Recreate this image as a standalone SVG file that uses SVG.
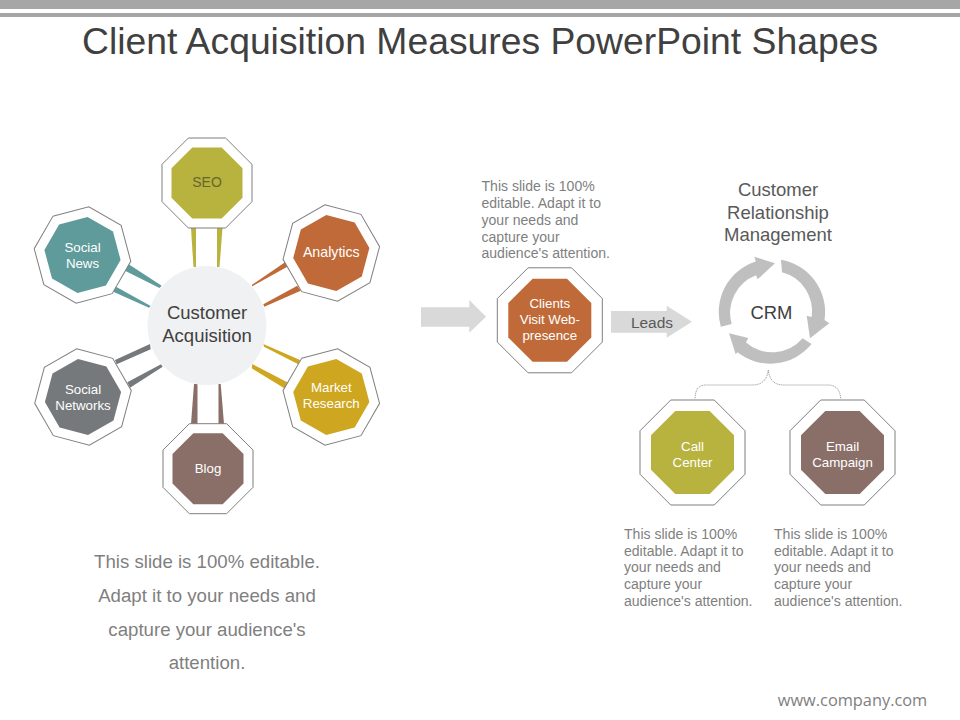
<svg xmlns="http://www.w3.org/2000/svg" width="960" height="720" viewBox="0 0 960 720">
<style>
text{font-family:"Liberation Sans",Arial,sans-serif;text-anchor:middle}
.ring{fill:#fff;stroke:#7f7f7f;stroke-width:1}
.lbl{font-size:13.3px;fill:#fff}
.big{font-size:18.5px;fill:#404040}
.crmt{font-size:18.5px;fill:#595959}
.para{font-size:14.05px;fill:#7f7f7f;text-anchor:start}
.side{font-size:18.65px;fill:#7f7f7f}
.arrow{fill:#d9d9d9}
.crm{fill:#bfbfbf}
.teal{fill:#5f9b9b}.olive{fill:#b8b33f}.rust{fill:#bf6a38}.gold{fill:#cfa61f}.brown{fill:#8a6f69}.grey{fill:#75797b}
</style>
<defs>
<polygon id="o45" class="ring" points="-18.64,-45 18.64,-45 45,-18.64 45,18.64 18.64,45 -18.64,45 -45,18.64 -45,-18.64"/>
<polygon id="i35" points="-14.7,-35.5 14.7,-35.5 35.5,-14.7 35.5,14.7 14.7,35.5 -14.7,35.5 -35.5,14.7 -35.5,-14.7"/>
<polygon id="o52" class="ring" points="-21.75,-52.5 21.75,-52.5 52.5,-21.75 52.5,21.75 21.75,52.5 -21.75,52.5 -52.5,21.75 -52.5,-21.75"/>
<polygon id="i41" points="-17.19,-41.5 17.19,-41.5 41.5,-17.19 41.5,17.19 17.19,41.5 -17.19,41.5 -41.5,17.19 -41.5,-17.19"/>
</defs>
<g id="header-bars" fill="#a6a6a6">
<rect x="0" y="0" width="960" height="9"/>
<rect x="0" y="13" width="960" height="4"/>
</g>
<text id="title" x="480" y="54" font-size="37.3" fill="#404040">Client Acquisition Measures PowerPoint Shapes</text>
<g id="connectors">
<polygon class="olive" points="191,228 196,228 196,267 193.5,267"/>
<polygon class="olive" points="217,228 222.5,228 219.5,267 217,267"/>
<polygon class="brown" points="194,384 197.5,384 197.5,424 191,424"/>
<polygon class="brown" points="218.5,384 220.7,384 224,424 218.5,424"/>
<polygon class="teal" points="128.3,264 123.5,270 159.5,288 161.7,285.7"/>
<polygon class="teal" points="116,286.7 113.3,291.7 149,307.7 150.7,306"/>
<polygon class="rust" points="285,262.3 287.3,266.7 252.3,286.3 251.7,285"/>
<polygon class="rust" points="297.3,285.7 300.7,290.7 264.3,306.7 263.3,304.3"/>
<polygon class="grey" points="115,360 116.7,364.3 150.7,349.3 150,344"/>
<polygon class="grey" points="127.3,382.3 130,387.7 162.7,366.7 161,364.3"/>
<polygon class="gold" points="300,360 298.3,364.3 264,346.7 263.3,344"/>
<polygon class="gold" points="287.3,382.3 284.3,388.3 251.7,368.3 252.3,364"/>
<polygon id="arrow-in" class="arrow" points="421,307.3 469.3,307.3 469.3,300 486,316.7 469.3,332.7 469.3,326.7 421,326.7"/>
<path id="crm-brace" d="M695,398.3C695.5,390 698,385 706,385L752,385C762,385 767,380 768.3,370C769.5,380 774,385 784,385L828,385C836,385 840,390 840.7,398.3" fill="none" stroke="#8c8c8c" stroke-width="1" stroke-dasharray="1 1"/>
</g>
<g id="hub">
<circle cx="207" cy="325.5" r="59.5" fill="#f0f1f2"/>
<text class="big" x="207" y="319">Customer</text>
<text class="big" x="207" y="342">Acquisition</text>
</g>
<g id="node-seo" transform="translate(207 183)"><use href="#o45"/><use href="#i35" class="olive"/><text class="lbl" y="4" style="fill:#66662f;font-size:14px">SEO</text></g>
<g id="node-social-news" transform="translate(82.5 255)"><use href="#o45" transform="rotate(-15)"/><use href="#i35" class="teal" transform="rotate(-15)"/><text class="lbl" y="-3.5">Social</text><text class="lbl" y="12.5">News</text></g>
<g id="node-analytics" transform="translate(331.3 253)"><use href="#o45" transform="rotate(15)"/><use href="#i35" class="rust" transform="rotate(15)"/><text class="lbl" y="4" style="font-size:14.2px">Analytics</text></g>
<g id="node-market-research" transform="translate(331.3 397)"><use href="#o45" transform="rotate(-15)"/><use href="#i35" class="gold" transform="rotate(-15)"/><text class="lbl" y="-5">Market</text><text class="lbl" y="11">Research</text></g>
<g id="node-social-networks" transform="translate(83 397)"><use href="#o45" transform="rotate(15)"/><use href="#i35" class="grey" transform="rotate(15)"/><text class="lbl" y="-3">Social</text><text class="lbl" y="13">Networks</text></g>
<g id="node-blog" transform="translate(208 468.7)"><use href="#o45"/><use href="#i35" class="brown"/><text class="lbl" y="4">Blog</text></g>
<text class="para"><tspan x="481.5" y="191">This slide is 100%</tspan><tspan x="481.5" y="208">editable. Adapt it to</tspan><tspan x="481.5" y="224.5">your needs and</tspan><tspan x="481.5" y="241.5">capture your</tspan><tspan x="481.5" y="258">audience's attention.</tspan></text>
<g id="node-clients" transform="translate(549.8 320.3)"><use href="#o52"/><use href="#i41" class="rust"/><text class="lbl" y="-12.5">Clients</text><text class="lbl" y="4">Visit Web-</text><text class="lbl" y="20">presence</text></g>
<g id="leads-arrow"><polygon class="arrow" points="611,311 666.7,311 666.7,305.7 692,321.7 666.7,337.7 666.7,332.7 611,332.7"/><text x="652" y="328" font-size="15.5" fill="#595959">Leads</text></g>
<g id="crm">
<text class="crmt" x="778" y="196">Customer</text>
<text class="crmt" x="778" y="219">Relationship</text>
<text class="crmt" x="778" y="241">Management</text>
<path class="crm" d="M781,259.8A53,53 0 0 1 824.500,320L829.300,323.300L810,338.300L806.700,315.700L811.600,317A40,40 0 0 0 782,272.200Z"/>
<path class="crm" d="M811.500,344A53,53 0 0 1 737.500,352.300L735.700,354.300L729,333.300L748.300,338L746,342.400A40,40 0 0 0 802.700,338.300Z"/>
<path class="crm" d="M720.800,326.700A53,53 0 0 1 755.800,261.500L754.300,256.700L775,263.300L757.700,279.300L756,275.300A40,40 0 0 0 731.700,324Z"/>
<text x="771.5" y="319" font-size="18.4" fill="#404040">CRM</text>
</g>
<g id="node-call-center" transform="translate(692.5 452.5)"><use href="#o52"/><use href="#i41" class="olive"/><text class="lbl" y="-2">Call</text><text class="lbl" y="14">Center</text></g>
<g id="node-email-campaign" transform="translate(842.5 452.5)"><use href="#o52"/><use href="#i41" class="brown"/><text class="lbl" y="-2">Email</text><text class="lbl" y="14">Campaign</text></g>
<text class="para"><tspan x="624" y="539">This slide is 100%</tspan><tspan x="624" y="555.5">editable. Adapt it to</tspan><tspan x="624" y="572">your needs and</tspan><tspan x="624" y="589">capture your</tspan><tspan x="624" y="606">audience's attention.</tspan></text>
<text class="para"><tspan x="774" y="539">This slide is 100%</tspan><tspan x="774" y="555.5">editable. Adapt it to</tspan><tspan x="774" y="572">your needs and</tspan><tspan x="774" y="589">capture your</tspan><tspan x="774" y="606">audience's attention.</tspan></text>
<text class="side" x="207" y="568">This slide is 100% editable.</text>
<text class="side" x="207" y="602">Adapt it to your needs and</text>
<text class="side" x="207" y="635.5">capture your audience's</text>
<text class="side" x="207" y="669">attention.</text>
<text id="footer" x="852.5" y="706" font-size="16.35" fill="#7f7f7f" style="font-family:'Open Sans',sans-serif">www.company.com</text>
</svg>
